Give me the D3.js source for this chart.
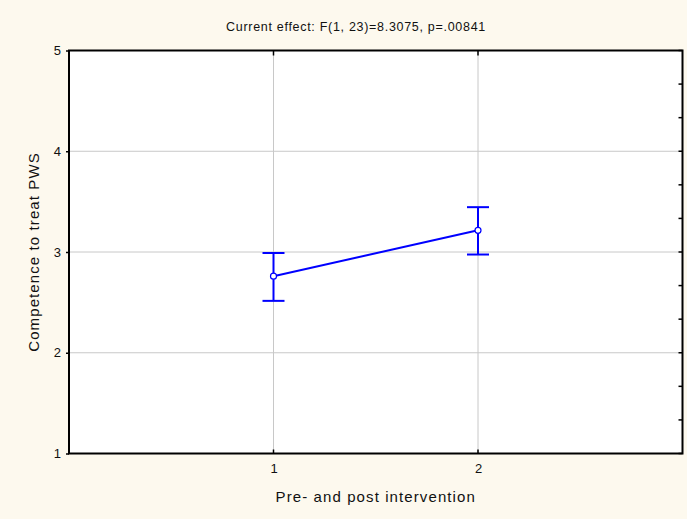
<!DOCTYPE html>
<html lang="en">
<head>
<meta charset="utf-8">
<title>Current effect</title>
<script src="https://d3js.org/d3.v7.min.js"></script>
<style>
  body { margin: 0; background: #fdf9ee; }
  text { font-family: "Liberation Sans", Arial, sans-serif; fill: #111; }
</style>
</head>
<body>
<script>
// data
var categories = [1, 2];
var means = [2.76, 3.215];
var lower = [2.515, 2.975];
var upper = [2.99, 3.445];
var yTicks = [1, 2, 3, 4, 5];
var title = "Current effect: F(1, 23)=8.3075, p=.00841";
var xTitle = "Pre- and post intervention";
var yTitle = "Competence to treat  PWS";

var w = 687, h = 519;
var mLeft = 69, mRight = 682.5, mTop = 50.5, mBottom = 453.5;

var svg = d3.select("body").append("svg")
  .attr("width", w).attr("height", h);

svg.append("rect").attr("width", w).attr("height", h).attr("fill", "#fdf9ee");

var x = d3.scaleLinear().domain([0, 3]).range([mLeft, mRight]);
var y = d3.scaleLinear().domain([1, 5]).range([mBottom, mTop]);

// plot area
svg.append("rect")
  .attr("x", mLeft).attr("y", mTop)
  .attr("width", mRight - mLeft).attr("height", mBottom - mTop)
  .attr("fill", "white");

// grid lines
svg.append("g").selectAll("line")
  .data(yTicks.slice(1, -1))
  .enter().append("line")
  .attr("x1", mLeft).attr("x2", mRight)
  .attr("y1", function(d) { return y(d); })
  .attr("y2", function(d) { return y(d); })
  .attr("stroke", "#c8c8c8").attr("stroke-width", 1);

svg.append("g").selectAll("line")
  .data(categories)
  .enter().append("line")
  .attr("y1", mTop).attr("y2", mBottom)
  .attr("x1", function(d) { return x(d); })
  .attr("x2", function(d) { return x(d); })
  .attr("stroke", "#c8c8c8").attr("stroke-width", 1);

// axes
var yAxis = d3.axisLeft(y).tickValues(yTicks).tickFormat(d3.format("d"))
  .tickSize(3).tickPadding(5);
var gy = svg.append("g").attr("transform", "translate(" + mLeft + ",0)").call(yAxis);
gy.select(".domain").remove();
gy.selectAll("line").attr("stroke", "#000").attr("stroke-width", 1.5);
gy.selectAll("text").attr("font-size", 13).attr("fill", "#111")
  .attr("font-family", "Liberation Sans, Arial, sans-serif");

var xAxis = d3.axisBottom(x).tickValues(categories).tickFormat(d3.format("d"))
  .tickSize(0).tickPadding(10);
var gx = svg.append("g").attr("transform", "translate(0," + mBottom + ")").call(xAxis);
gx.select(".domain").remove();
gx.selectAll("text").attr("font-size", 13).attr("fill", "#111")
  .attr("font-family", "Liberation Sans, Arial, sans-serif");

// inward ticks: top and bottom at categories, right at thirds
var thirds = d3.range(1, 5.001, 1 / 3);
svg.append("g").selectAll("line").data(categories).enter().append("line")
  .attr("x1", function(d) { return x(d); }).attr("x2", function(d) { return x(d); })
  .attr("y1", mTop).attr("y2", mTop + 5)
  .attr("stroke", "#000").attr("stroke-width", 1.5);
svg.append("g").selectAll("line").data(categories).enter().append("line")
  .attr("x1", function(d) { return x(d); }).attr("x2", function(d) { return x(d); })
  .attr("y1", mBottom).attr("y2", mBottom - 4)
  .attr("stroke", "#000").attr("stroke-width", 1.5);
svg.append("g").selectAll("line").data(thirds).enter().append("line")
  .attr("x1", mRight).attr("x2", mRight - 4)
  .attr("y1", function(d) { return y(d); }).attr("y2", function(d) { return y(d); })
  .attr("stroke", "#000").attr("stroke-width", 1.5);

// frame
svg.append("rect")
  .attr("x", mLeft).attr("y", mTop)
  .attr("width", mRight - mLeft).attr("height", mBottom - mTop)
  .attr("fill", "none").attr("stroke", "#000").attr("stroke-width", 2);

// error bars
var eb = svg.append("g");
categories.forEach(function(c, i) {
  eb.append("line")
    .attr("x1", x(c)).attr("x2", x(c))
    .attr("y1", y(lower[i])).attr("y2", y(upper[i]))
    .attr("stroke", "#0000ff").attr("stroke-width", 2);
  [lower[i], upper[i]].forEach(function(v) {
    eb.append("line")
      .attr("x1", x(c) - 11).attr("x2", x(c) + 11)
      .attr("y1", y(v)).attr("y2", y(v))
      .attr("stroke", "#0000ff").attr("stroke-width", 2);
  });
});

// mean line
var line = d3.line()
  .x(function(d, i) { return x(categories[i]); })
  .y(function(d) { return y(d); });
svg.append("path").datum(means)
  .attr("d", line)
  .attr("fill", "none").attr("stroke", "#0000ff").attr("stroke-width", 2);

svg.append("g").selectAll("circle").data(means).enter().append("circle")
  .attr("cx", function(d, i) { return x(categories[i]); })
  .attr("cy", function(d) { return y(d); })
  .attr("r", 3)
  .attr("fill", "white").attr("stroke", "#0000ff").attr("stroke-width", 1.2);

// titles
svg.append("text").text(title)
  .attr("x", 356).attr("y", 31)
  .attr("text-anchor", "middle").attr("font-size", 12.5)
  .attr("letter-spacing", 0.7);

svg.append("text").text(xTitle)
  .attr("x", (mLeft + mRight) / 2).attr("y", 502)
  .attr("text-anchor", "middle").attr("font-size", 15)
  .attr("letter-spacing", 1.1);

svg.append("text").text(yTitle)
  .attr("transform", "translate(39," + ((mTop + mBottom) / 2) + ") rotate(-90)")
  .attr("text-anchor", "middle").attr("font-size", 15)
  .attr("letter-spacing", 1.1);
</script>
</body>
</html>
